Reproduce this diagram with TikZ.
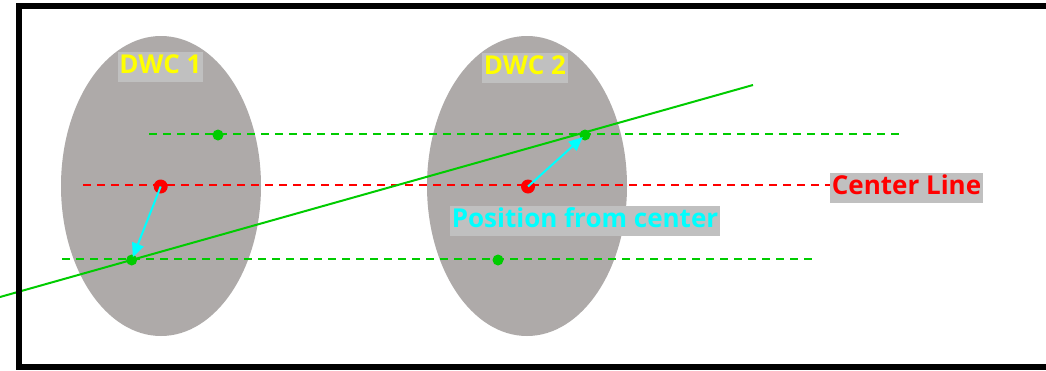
\documentclass[tikz,border=0pt]{standalone}
\usepackage{fontspec}
\setmainfont{Open Sans}
\usetikzlibrary{arrows.meta,shapes.geometric}
\definecolor{dwcgray}{RGB}{174,170,169}
\definecolor{tagbg}{RGB}{192,192,192}
\definecolor{ptgreen}{RGB}{0,204,0}
\definecolor{ptred}{RGB}{255,0,0}
\definecolor{ptcyan}{RGB}{0,255,255}
\definecolor{ptyellow}{RGB}{255,255,0}
\tikzset{
  dwc/.style={ellipse, fill=dwcgray, minimum width=200pt, minimum height=300pt, inner sep=0pt},
  tag/.style={fill=tagbg, font=\fontsize{26}{30}\selectfont\bfseries, text height=21pt, text depth=9pt, inner ysep=0pt, inner xsep=1.5pt, anchor=base},
  guide/.style={line width=2pt, dash pattern=on 8pt off 6pt},
  reddot/.style={circle, fill=ptred, minimum size=14pt, inner sep=0pt},
  greendot/.style={circle, fill=ptgreen, minimum size=11pt, inner sep=0pt},
  offset/.style={ptcyan, line width=2pt, -{Triangle[length=14pt,width=12pt]}, shorten >=3pt},
}
\begin{document}
\begin{tikzpicture}[x=1pt, y=-1pt]
\useasboundingbox (0,0) rectangle (1046,370);
\fill[white] (0,0) rectangle (1046,370);

% detector bodies
\node[dwc] (d1) at (161,186) {};
\node[dwc] (d2) at (527,186) {};

% labels
\node[tag, text=ptyellow] (l1) at (160.5,73) {DWC 1};
\node[tag, text=ptyellow] (l2) at (525,74) {DWC 2};
\node[tag, text=ptred] (cl) at (906.5,194) {Center Line};
\node[tag, text=ptcyan] (pc) at (585,227) {Position from center};

% guide line end points
\coordinate (ua) at (149,134);
\coordinate (ub) at (899,134);
\coordinate (ca) at (83,185);
\coordinate (la) at (62,259);
\coordinate (lb) at (812,259);
\coordinate (ta) at (0,297);
\coordinate (tb) at (753,85);

\draw[guide, ptgreen] (ua) -- (ub);
\draw[guide, ptred] (ca) -- (cl.west |- ca);
\draw[guide, ptgreen] (la) -- (lb);

% track
\draw[ptgreen, line width=2pt] (ta) -- (tb);

% hit points and centres
\node[greendot] (h1a) at (218,135) {};
\node[greendot] (h1b) at (131.7,260) {};
\node[greendot] (h2a) at (585,135) {};
\node[greendot] (h2b) at (498,260) {};
\node[reddot] (c1) at (160.7,186.5) {};
\node[reddot] (c2) at (528,186.5) {};

% offsets from centre
\draw[offset] (c1.center) -- (h1b.center);
\draw[offset] (c2.center) -- (h2a.center);

% frame
\draw[black, line width=6pt] (1060,6) -- (19,6) -- (19,367) -- (1060,367);
\end{tikzpicture}
\end{document}
